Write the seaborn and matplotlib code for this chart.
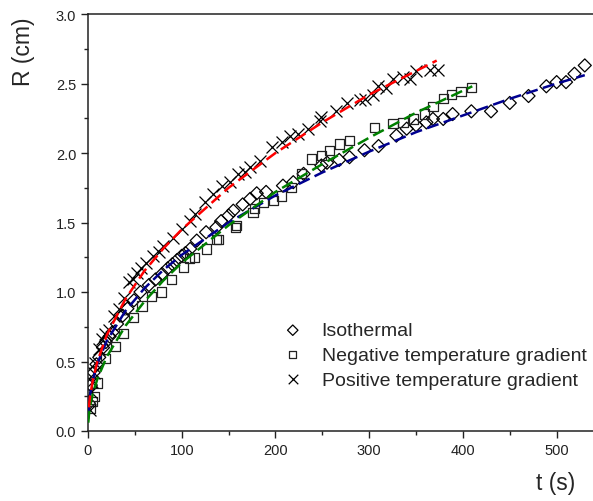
import numpy as np
import pandas as pd
import matplotlib
matplotlib.use("Agg")
import matplotlib.pyplot as plt
import matplotlib.ticker as mticker
import seaborn as sns

# Dados
iso_t = [1, 3, 6, 9, 12, 16, 19, 23, 26, 31, 37, 42, 49, 56, 65, 72, 79, 85, 90, 95,
         100, 104, 109, 116, 126, 137, 142, 150, 155, 165, 173, 180, 190, 208, 219, 230,
         249, 255, 268, 279, 295, 310, 329, 340, 350, 361, 368, 379, 389, 409, 430, 450,
         470, 489, 500, 510, 519, 530]
iso_r = [0.20, 0.33, 0.42, 0.48, 0.53, 0.60, 0.64, 0.68, 0.71, 0.77, 0.83, 0.88, 0.94,
         1.00, 1.05, 1.09, 1.13, 1.17, 1.20, 1.23, 1.26, 1.28, 1.31, 1.37, 1.43, 1.465,
         1.51, 1.55, 1.585, 1.63, 1.67, 1.71, 1.72, 1.765, 1.79, 1.85, 1.91, 1.93, 1.95,
         1.97, 2.02, 2.05, 2.125, 2.175, 2.20, 2.22, 2.245, 2.245, 2.28, 2.30, 2.30, 2.36,
         2.41, 2.48, 2.51, 2.51, 2.57, 2.63]

neg_t = [2.8, 4.6, 6.4, 9.5, 18.5, 29, 38, 48.5, 57.5, 68, 78.5, 89, 101.6, 108.7, 114,
         126.4, 137, 139, 157, 158.5, 176, 178, 187, 197.5, 206.5, 217, 228, 238.5, 249,
         258, 268.7, 279.3, 306, 325.5, 336, 347, 359, 368, 379, 388, 398, 409]
neg_r = [0.16, 0.21, 0.25, 0.345, 0.52, 0.61, 0.70, 0.815, 0.90, 0.97, 1.00, 1.09, 1.18,
         1.24, 1.25, 1.31, 1.38, 1.38, 1.465, 1.48, 1.57, 1.60, 1.645, 1.657, 1.69, 1.75,
         1.85, 1.957, 1.98, 2.017, 2.065, 2.09, 2.185, 2.21, 2.22, 2.245, 2.28, 2.335,
         2.39, 2.42, 2.44, 2.47]

pos_t = [2, 3, 4.6, 6, 8, 11.7, 15, 18, 22.4, 27.7, 33, 38, 43.7, 48, 52.6, 57, 61.5,
         69.6, 75.7, 80.3, 91, 100, 108.7, 114, 124.7, 133.6, 142.5, 151.4, 160.2, 167.4,
         172.7, 183.4, 195.8, 206.5, 215.4, 224.2, 234.9, 247.3, 249, 265.1, 275.8, 290,
         295.3, 304.2, 309.5, 318.4, 325.5, 336.1, 343.3, 350, 364.6, 373.5]
pos_r = [0.15, 0.28, 0.35, 0.42, 0.49, 0.59, 0.66, 0.70, 0.73, 0.83, 0.88, 0.96, 1.07,
         1.09, 1.14, 1.17, 1.21, 1.26, 1.285, 1.33, 1.39, 1.45, 1.51, 1.56, 1.645, 1.705,
         1.765, 1.79, 1.85, 1.86, 1.90, 1.945, 2.04, 2.08, 2.125, 2.14, 2.17, 2.23, 2.26,
         2.30, 2.36, 2.38, 2.39, 2.42, 2.48, 2.47, 2.53, 2.545, 2.53, 2.59, 2.60, 2.60]

# Curvas ajustadas (tracejadas)
fit_iso_t = [0.2, 1, 3, 5, 10, 20, 40, 60, 80, 100, 150, 200, 250, 300, 350, 400, 450, 500, 530]
fit_iso_r = [0.09, 0.185, 0.293, 0.363, 0.485, 0.648, 0.864, 1.025, 1.156, 1.267, 1.50,
             1.695, 1.86, 2.01, 2.15, 2.27, 2.39, 2.50, 2.56]
fit_neg_t = [0.3, 1, 3, 5, 10, 20, 40, 60, 80, 100, 150, 200, 250, 300, 350, 410]
fit_neg_r = [0.06, 0.116, 0.203, 0.263, 0.375, 0.534, 0.757, 0.93, 1.08, 1.21, 1.48,
             1.72, 1.92, 2.11, 2.29, 2.48]
fit_pos_t = [1, 2, 5, 10, 20, 40, 60, 80, 100, 150, 200, 250, 300, 350, 372]
fit_pos_r = [0.17, 0.24, 0.36, 0.50, 0.69, 0.95, 1.15, 1.31, 1.45, 1.75, 2.00, 2.22,
             2.42, 2.59, 2.665]

labels = ["Isothermal", "Negative temperature gradient", "Positive temperature gradient"]

sns.set_style("ticks")
plt.rcParams.update({
    "font.family": ["Liberation Sans", "DejaVu Sans"],
    "axes.linewidth": 1.1,
    "axes.edgecolor": "#222222",
    "xtick.direction": "out",
    "ytick.direction": "out",
})

fig = plt.figure(figsize=(5.93, 5.02), dpi=100)
ax = fig.add_axes([88 / 593, 70 / 502, 545 * 0.9373 / 593, 417 / 502])

# ── Pontos experimentais ──────────────────────────
sns.scatterplot(x=iso_t, y=iso_r, marker="D", s=44, facecolors="none",
                edgecolor="black", linewidth=0.9, label=labels[0], ax=ax, zorder=2)
sns.scatterplot(x=neg_t, y=neg_r, marker="s", s=44, facecolors="none",
                edgecolor="#222222", linewidth=0.9, label=labels[1], ax=ax, zorder=2)
sns.scatterplot(x=pos_t, y=pos_r, marker="x", s=74, color="black",
                linewidth=0.9, label=labels[2], ax=ax, zorder=2)

# ── Ajustes ───────────────────────────────────────
dash = (0, (4.8, 2.2))
sns.lineplot(x=fit_iso_t, y=fit_iso_r, color="#000090", lw=1.8, linestyle=dash,
             sort=False, ax=ax, zorder=3, legend=False)
sns.lineplot(x=fit_neg_t, y=fit_neg_r, color="#008000", lw=1.8, linestyle=dash,
             sort=False, ax=ax, zorder=3, legend=False)
sns.lineplot(x=fit_pos_t, y=fit_pos_r, color="#ff0000", lw=1.8, linestyle=dash,
             sort=False, ax=ax, zorder=3, legend=False)

ax.set_xlim(0, 545)
ax.set_ylim(0, 3.0)
ax.xaxis.set_major_locator(mticker.MultipleLocator(100))
ax.xaxis.set_minor_locator(mticker.MultipleLocator(50))
ax.yaxis.set_major_locator(mticker.MultipleLocator(0.5))
ax.yaxis.set_minor_locator(mticker.MultipleLocator(0.25))
ax.yaxis.set_major_formatter(mticker.FormatStrFormatter("%.1f"))
ax.tick_params(which="major", length=5, width=1, labelsize=10.5, colors="#222222")
ax.tick_params(which="minor", length=3, width=1, colors="#222222")
for s in ["top", "right", "left", "bottom"]:
    ax.spines[s].set_visible(True)

ax.set_xlabel("t (s)", fontsize=16.5)
ax.set_ylabel("R (cm)", fontsize=16.5)
ax.xaxis.set_label_coords(0.915, -0.097)
ax.yaxis.set_label_coords(-0.103, 0.911)

ax.legend(loc="center left", bbox_to_anchor=(0.378, 0.182), frameon=False,
          fontsize=14, handlelength=1.2, handletextpad=0.88, borderpad=0,
          borderaxespad=0, labelspacing=0.36, markerscale=0.8)

fig.savefig("out.png", dpi=100)
